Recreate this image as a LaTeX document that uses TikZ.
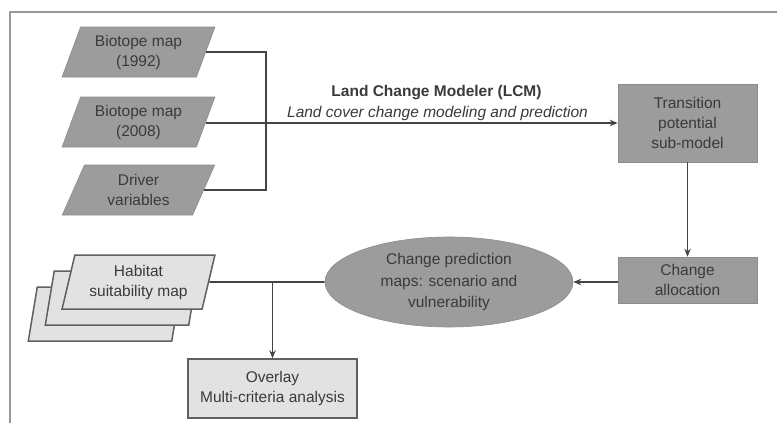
\documentclass[tikz,border=0pt]{standalone}
\usepackage{fontspec}
\setmainfont{Liberation Sans}
\usetikzlibrary{shapes.geometric,arrows.meta}
\definecolor{txt}{HTML}{3A3A3A}
\definecolor{dk}{HTML}{9C9C9C}
\definecolor{lt}{HTML}{E2E2E2}
\definecolor{ln}{HTML}{444444}
\tikzset{
  base/.style={text=txt, font=\fontsize{15.5}{20}\selectfont, align=center, inner sep=0pt},
  darkpara/.style={base, trapezium, trapezium stretches=true, trapezium left angle=68, trapezium right angle=112,
     minimum width=153pt, minimum height=50pt, fill=dk, draw=dk!90!black, line width=0.6pt},
  lightpara/.style={base, trapezium, trapezium stretches=true, trapezium left angle=74, trapezium right angle=106,
     minimum width=153pt, minimum height=54pt, fill=lt, draw=ln!85, line width=1.5pt},
  darkbox/.style={base, rectangle, fill=dk, draw=dk!90!black, line width=0.6pt, minimum width=139pt},
  lightbox/.style={base, rectangle, fill=lt, draw=ln!85, line width=1.5pt, minimum width=169pt, minimum height=59pt},
  conn/.style={draw=ln, line width=1.6pt},
  arr/.style={conn, -{Stealth[length=8pt,width=6.5pt]}},
}
\begin{document}
\begin{tikzpicture}[x=1pt,y=-1pt]
\useasboundingbox (0,0) rectangle (777,423);
\fill[white] (0,0) rectangle (777,423);
\draw[draw=black!40, line width=1.5pt] (10,423) -- (10,12) -- (777,12);

\node[darkpara] (b1) at (138.5,52) {Biotope map\\(1992)};
\node[darkpara] (b2) at (138.5,122) {Biotope map\\(2008)};
\node[darkpara] (b3) at (138.5,190) {Driver\\variables};

\node[darkbox, minimum height=78pt] (trans) at (687.5,123) {Transition\\potential\\sub-model};
\node[darkbox, minimum height=46pt] (alloc) at (687.5,280) {Change\\allocation};

\node[base, ellipse, fill=dk, draw=dk!90!black, line width=0.6pt, minimum width=248pt, minimum height=90pt,
      font=\fontsize{15.5}{21.5}\selectfont] (ell) at (449,282) {Change prediction\\maps: scenario and\\vulnerability};

\node[lightpara] (hab3) at (104.5,314) {\phantom{Habitat}};
\node[lightpara] (hab2) at (121.5,298) {\phantom{Habitat}};
\node[lightpara] (hab) at (138.5,282) {Habitat\\suitability map};

\node[lightbox] (over) at (272.5,388.5) {Overlay\\Multi-criteria analysis};

\node[base, font=\fontsize{15.5}{20}\selectfont\bfseries] (lcm) at (436.5,93) {Land Change Modeler (LCM)};
\node[base, font=\fontsize{15.5}{20}\selectfont\itshape] (lcc) at (437.5,113) {Land cover change modeling and prediction};

\coordinate (jx) at (266,0);
\draw[conn] (b1.east) -| (jx |- b3.east) -- (b3.east);
\draw[arr] (b2.east |- trans.west) -- (trans.west);
\draw[arr] (trans.south) -- (alloc.north);
\draw[arr] (alloc.west |- ell.east) -- (ell.east);
\draw[conn] (hab.east) -- (ell.west);
\draw[arr] (over.north |- hab.east) -- (over.north);
\end{tikzpicture}
\end{document}
